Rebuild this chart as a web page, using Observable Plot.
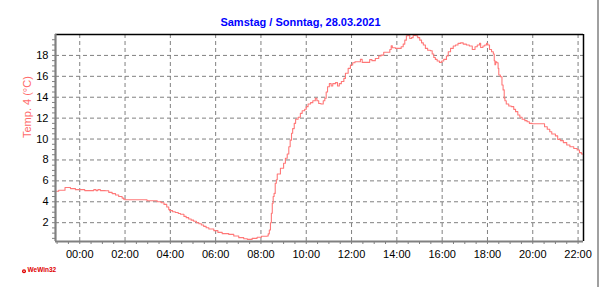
<!DOCTYPE html>
<html>
<head>
<meta charset="utf-8">
<script src="https://cdn.jsdelivr.net/npm/d3@7"></script>
<script src="https://cdn.jsdelivr.net/npm/@observablehq/plot@0.6"></script>
<style>
  html, body { margin: 0; padding: 0; background: #fff; }
  #wrap { position: relative; width: 602px; height: 287px; overflow: hidden; }
  #border { position: absolute; left: 597px; top: 0; width: 2px; height: 287px; background: #a0a0a0; z-index: 2; }
</style>
</head>
<body>
<div id="wrap"><div id="border"></div></div>
<script>
const title = "Samstag / Sonntag, 28.03.2021";
const yLabel = "Temp. 4 (°C)";
const logoText = "WeWin32";

const hours = [
  -1.07, -0.93, -0.65, -0.41, -0.19, 0.22, 0.62, 0.72, 0.8, 0.91,
  1.13, 1.28, 1.43, 1.58, 1.72, 1.87, 1.94, 2.0, 2.97, 3.42,
  3.6, 3.72, 3.84, 3.93, 3.97, 4.1, 4.22, 4.35, 4.45, 4.6,
  4.7, 4.81, 4.92, 5.03, 5.15, 5.26, 5.37, 5.47, 5.58, 5.7,
  5.92, 6.1, 6.29, 6.58, 6.8, 7.02, 7.24, 7.4, 7.61, 7.83,
  8.02, 8.27, 8.32, 8.37, 8.42, 8.46, 8.5, 8.54, 8.58, 8.63,
  8.68, 8.72, 8.86, 9.0, 9.08, 9.16, 9.23, 9.29, 9.35, 9.4,
  9.47, 9.53, 9.64, 9.74, 9.82, 9.93, 10.0, 10.08, 10.19, 10.29,
  10.4, 10.47, 10.55, 10.65, 10.75, 10.82, 10.88, 10.94, 11.02, 11.1,
  11.17, 11.29, 11.38, 11.46, 11.55, 11.66, 11.73, 11.85, 11.95, 12.05,
  12.15, 12.39, 12.47, 12.8, 12.9, 13.05, 13.2, 13.3, 13.42, 13.69,
  13.75, 13.8, 13.94, 14.19, 14.28, 14.35, 14.42, 14.5, 14.57, 14.65,
  14.72, 14.85, 14.92, 15.01, 15.09, 15.17, 15.26, 15.36, 15.48, 15.56,
  15.63, 15.7, 15.78, 15.88, 15.98, 16.07, 16.19, 16.27, 16.37, 16.49,
  16.59, 16.7, 16.81, 16.93, 17.07, 17.2, 17.33, 17.45, 17.55, 17.65,
  17.7, 17.8, 17.88, 17.96, 18.01, 18.09, 18.18, 18.26, 18.3, 18.33,
  18.36, 18.41, 18.47, 18.5, 18.57, 18.64, 18.69, 18.74, 18.77, 18.83,
  18.94, 19.05, 19.16, 19.24, 19.34, 19.43, 19.53, 19.65, 19.75, 19.85,
  19.97, 20.52, 20.64, 20.75, 20.84, 21.0, 21.1, 21.22, 21.35, 21.5,
  21.64, 21.81, 21.96, 22.06, 22.15, 22.24
];
const temps = [
  5.0, 5.1, 5.36, 5.26, 5.16, 5.07, 5.16, 5.07, 5.16, 5.07,
  5.05, 4.9, 4.78, 4.65, 4.5, 4.35, 4.25, 4.2, 4.1, 4.0,
  3.9, 3.75, 3.5, 3.25, 3.15, 3.05, 2.98, 2.88, 2.8, 2.6,
  2.48, 2.35, 2.24, 2.13, 2.0, 1.9, 1.78, 1.65, 1.52, 1.4,
  1.24, 1.07, 0.95, 0.88, 0.72, 0.57, 0.47, 0.4, 0.5, 0.6,
  0.7, 0.72, 0.93, 1.3, 2.0, 2.9, 3.86, 4.5, 4.8, 5.77,
  6.1, 6.66, 7.2, 7.68, 8.16, 8.57, 9.27, 9.9, 10.55, 11.0,
  11.5, 11.9, 12.08, 12.46, 12.7, 12.85, 13.1, 13.35, 13.48, 13.67,
  13.9, 13.67, 13.4, 13.35, 13.67, 13.9, 14.5, 15.0, 15.3, 15.07,
  15.3, 15.4, 15.07, 15.3, 15.5, 15.8, 16.3, 16.76, 17.08, 17.3,
  17.4, 17.62, 17.33, 17.6, 17.5, 17.7, 17.94, 18.03, 18.3, 18.57,
  18.92, 18.73, 18.67, 18.83, 19.08, 19.46, 19.88, 19.94, 19.62, 19.7,
  19.9, 19.88, 19.7, 19.46, 19.2, 18.99, 18.67, 18.5, 18.45, 18.13,
  17.8, 17.62, 17.46, 17.33, 17.46, 17.62, 17.94, 18.35, 18.67, 18.9,
  18.99, 19.15, 19.2, 19.08, 18.99, 18.9, 18.57, 18.83, 18.99, 19.15,
  18.76, 18.9, 18.99, 19.15, 18.99, 18.57, 18.35, 18.13, 17.5, 17.1,
  17.4, 17.3, 16.76, 16.12, 15.96, 15.17, 14.7, 13.9, 13.67, 13.35,
  13.16, 13.1, 12.84, 12.62, 12.3, 12.08, 11.9, 11.76, 11.66, 11.5,
  11.47, 11.18, 10.93, 10.7, 10.48, 10.3, 9.97, 9.85, 9.66, 9.43,
  9.27, 9.1, 8.95, 8.7, 8.57, 8.48
];

const xTicks = [0, 2, 4, 6, 8, 10, 12, 14, 16, 18, 20, 22];
const yTicks = [2, 4, 6, 8, 10, 12, 14, 16, 18];
const xDomain = [-1.07, 22.24];
const yDomain = [0.2, 20.0];

const data = hours.map((h, i) => ({h, t: temps[i]}));
const xMinor = d3.range(-2, 47).map(k => k / 2).filter(v => v >= xDomain[0] && v <= xDomain[1]);
const yMinor = d3.range(1, 40).map(k => k / 2);
const fmt = h => String(h).padStart(2, "0") + ":00";

const gray = "#808080";
const chart = Plot.plot({
  width: 602,
  height: 287,
  marginLeft: 55,
  marginRight: 19,
  marginTop: 34,
  marginBottom: 46,
  style: {fontFamily: "'Liberation Sans', Arial, sans-serif", fontSize: "11px", background: "transparent", overflow: "visible"},
  x: {domain: xDomain, axis: null, label: null},
  y: {domain: yDomain, axis: null, label: null},
  marks: [
    Plot.ruleY(yTicks, {stroke: gray, strokeDasharray: "4,3"}),
    Plot.ruleX(xTicks, {stroke: gray, strokeDasharray: "4,3"}),
    Plot.line(data, {x: "h", y: "t", stroke: "#ff7878", strokeWidth: 1.1, curve: "step-after"}),
    Plot.ruleY([yDomain[1]], {stroke: "black", strokeWidth: 1.5}),
    Plot.ruleX([xDomain[1]], {stroke: "black", strokeWidth: 1.5}),
    Plot.ruleX([xDomain[0]], {stroke: gray, strokeWidth: 2.2}),
    Plot.ruleY([yDomain[0]], {stroke: gray, strokeWidth: 2.2}),
    Plot.axisY(yMinor, {tickSize: 3, text: null, stroke: gray, label: null}),
    Plot.axisY(yTicks, {tickSize: 0, tickPadding: 7, fill: "black", fontSize: 11, label: null}),
    Plot.axisX(xMinor, {tickSize: 3, text: null, stroke: gray, label: null}),
    Plot.axisX(xTicks, {tickSize: 0, tickPadding: 9, tickFormat: fmt, fill: "black", fontSize: 11, label: null}),
    Plot.text([yLabel], {frameAnchor: "left", dx: -28, rotate: -90, fill: "#ff6a6a", fontSize: 11}),
    Plot.text([title], {frameAnchor: "top", dx: -19, dy: -16, fill: "#0000ff", fontSize: 11, fontWeight: "bold"}),
    Plot.text([logoText], {frameAnchor: "bottom-left", dx: -28, dy: 30, textAnchor: "start", fill: "#e00000", fontSize: 6.5, fontWeight: "bold"}),
    Plot.dot([0], {frameAnchor: "bottom-left", dx: -31.5, dy: 29.7, r: 2, fill: "#e00000"}),
    Plot.dot([0], {frameAnchor: "bottom-left", dx: -31.5, dy: 29.7, r: 0.7, fill: "white"})
  ]
});
document.getElementById("wrap").appendChild(chart);
chart.style.position = "absolute";
chart.style.left = "0";
chart.style.top = "0";
</script>
</body>
</html>
